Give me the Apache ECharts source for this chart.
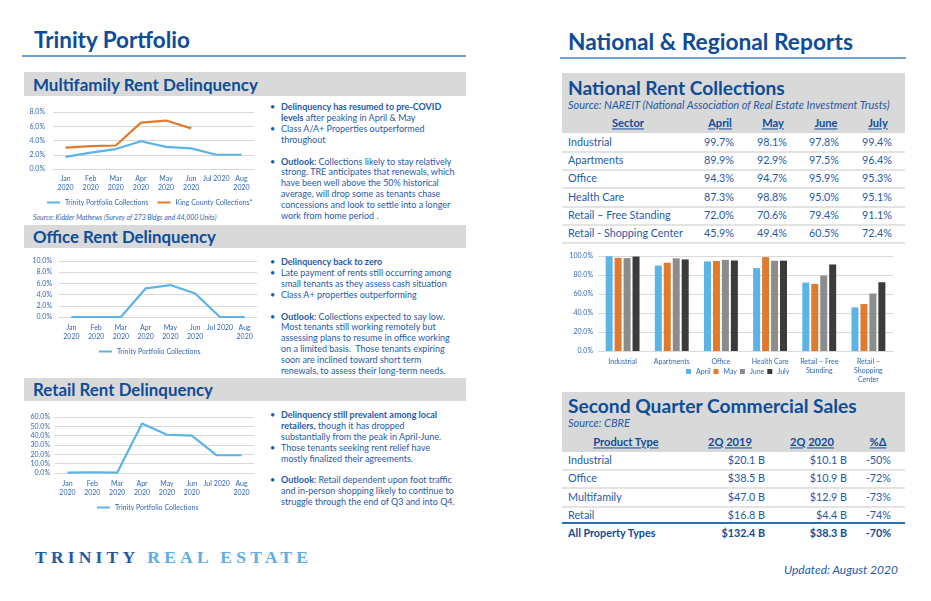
<!DOCTYPE html>
<html><head><meta charset="utf-8">
<script src="https://cdn.jsdelivr.net/npm/echarts@6/dist/echarts.min.js"></script>
<style>
html,body{margin:0;padding:0;background:#fff;width:931px;height:601px;overflow:hidden;font-family:Lato,'Noto Sans',sans-serif;}
#page{position:relative;width:931px;height:601px;}
.abs{position:absolute;white-space:nowrap;line-height:1;}
.box{position:absolute;}
#chart{position:absolute;left:0;top:0;width:931px;height:601px;z-index:2;}
</style></head><body><div id="page"><div id="chart"></div></div>
<script>
// ---------- DATA ----------
const monthLabels = ['Jan\n2020','Feb\n2020','Mar\n2020','Apr\n2020','May\n2020','Jun\n2020','Jul 2020','Aug\n2020'];
const trinityMultifamily = [1.7, 2.3, 2.8, 3.9, 3.1, 2.9, 2.0, 2.0];
const kingCountyMultifamily = [3.0, 3.2, 3.3, 6.5, 6.8, 5.7, null, null];
const trinityOffice = [0, 0, 0, 5.1, 5.7, 4.2, 0, 0];
const trinityRetail = [0.5, 0.8, 0.3, 53, 41, 40, 19, 19];

const sectors = ['Industrial','Apartments','Office','Health Care','Retail – Free Standing','Retail - Shopping Center'];
const sectorAxisLabels = ['Industrial','Apartments','Office','Health Care','Retail – Free\nStanding','Retail –\nShopping\nCenter'];
const monthsNational = ['April','May','June','July'];
const collApril = [99.7, 89.9, 94.3, 87.3, 72.0, 45.9];
const collMay   = [98.1, 92.9, 94.7, 98.8, 70.6, 49.4];
const collJune  = [97.8, 97.5, 95.9, 95.0, 79.4, 60.5];
const collJuly  = [99.4, 96.4, 95.3, 95.1, 91.1, 72.4];

const productTypes = ['Industrial','Office','Multifamily','Retail'];
const sales2019 = [20.1, 38.5, 47.0, 16.8];
const sales2020 = [10.1, 10.9, 12.9, 4.4];
const salesPct  = [-50, -72, -73, -74];
const totalLabel = 'All Property Types';
const total2019 = 132.4, total2020 = 38.3, totalPct = -70;

// ---------- STYLE ----------
const FONT = 'Lato';
const TITLE = '#0F4C97', BODY = '#1F5AA6', LBL = '#3467B0', GRAY = '#D9D9D9';
const LBLUE = '#5BB4E5', ORANGE = '#E07B2E', MGRAY = '#8C8C8C', DARK = '#3B3B3B';
const page = document.getElementById('page');

function measure(html, size, o) {
  const s = document.createElement('span');
  s.className = 'abs'; s.style.visibility = 'hidden';
  s.style.fontSize = size + 'px'; s.style.fontWeight = o.bold ? '700' : '400';
  s.style.fontStyle = o.italic ? 'italic' : 'normal';
  if (o.family) s.style.fontFamily = o.family;
  s.innerHTML = html; page.appendChild(s);
  const w = s.getBoundingClientRect().width; page.removeChild(s); return w;
}
function fitSize(html, targetW, o) {
  const base = 20;
  const n = (o.plain || html.replace(/<[^>]*>/g, '')).length;
  const lsTotal = o.ls ? o.ls * (n - 1) : 0;
  return base * (targetW - lsTotal) / measure(html, base, o);
}
function txt(html, x, y, o = {}) {
  const d = document.createElement('div'); d.className = 'abs'; d.innerHTML = html;
  d.style.left = x + 'px'; d.style.top = y + 'px';
  const tx = o.align === 'center' ? '-50%' : o.align === 'right' ? '-100%' : '0';
  d.style.transform = `translate(${tx},-50%)`;
  let size = o.size || 10;
  if (o.fitW) size = fitSize(html, o.fitW, o);
  d.style.fontSize = size + 'px'; d.style.fontWeight = o.bold ? '700' : '400';
  d.style.fontStyle = o.italic ? 'italic' : 'normal'; d.style.color = o.color || BODY;
  if (o.underline) d.style.textDecoration = 'underline';
  if (o.ls) d.style.letterSpacing = o.ls + 'px';
  if (o.family) d.style.fontFamily = o.family;
  page.appendChild(d); return size;
}
function rect(x, y, w, h, c) {
  const d = document.createElement('div'); d.className = 'box';
  Object.assign(d.style, {left: x + 'px', top: y + 'px', width: w + 'px', height: h + 'px', background: c});
  page.appendChild(d);
}
function bullets(lines, x, y0, step, size) {
  lines.forEach((ln, i) => {
    if (!ln) return;
    const y = y0 + i * step;
    if (ln.b) txt('•', x - 11, y, {size: size});
    txt(ln.h, x, y, {size: size});
  });
}

// ---------- LEFT COLUMN ----------
txt('Trinity Portfolio', 34, 40, {bold: true, fitW: 156, color: TITLE});
rect(22, 55, 444, 2, '#6F9FD0');

rect(24, 72, 442, 24, GRAY);
txt('Multifamily Rent Delinquency', 33, 84, {bold: true, fitW: 225, color: TITLE});
rect(24, 225, 442, 23, GRAY);
txt('Office Rent Delinquency', 33, 237, {bold: true, fitW: 183, color: TITLE});
rect(24, 378, 442, 23, GRAY);
txt('Retail Rent Delinquency', 33, 390, {bold: true, fitW: 180, color: TITLE});

txt('Source: Kidder Mathews (Survey of 273 Bldgs and 44,000 Units)', 33, 217, {italic: true, fitW: 184, color: LBL});

const bSize = (fitSize('Late payment of rents still occurring among', 174, {}) +
               fitSize('strong. TRE anticipates that renewals, which', 165, {}) +
               fitSize('and in-person shopping likely to continue to', 178, {})) / 3;
bullets([
  {b: 1, h: '<b>Delinquency has resumed to pre-COVID</b>'},
  {b: 0, h: '<b>levels</b> after peaking in April &amp; May'},
  {b: 1, h: 'Class A/A+ Properties outperformed'},
  {b: 0, h: 'throughout'},
  null,
  {b: 1, h: '<b>Outlook</b>: Collections likely to stay relatively'},
  {b: 0, h: 'strong. TRE anticipates that renewals, which'},
  {b: 0, h: 'have been well above the 50% historical'},
  {b: 0, h: 'average, will drop some as tenants chase'},
  {b: 0, h: 'concessions and look to settle into a longer'},
  {b: 0, h: 'work from home period .'}
], 281, 106, 10.9, bSize);
bullets([
  {b: 1, h: '<b>Delinquency back to zero</b>'},
  {b: 1, h: 'Late payment of rents still occurring among'},
  {b: 0, h: 'small tenants as they assess cash situation'},
  {b: 1, h: 'Class A+ properties outperforming'},
  null,
  {b: 1, h: '<b>Outlook</b>: Collections expected to say low.'},
  {b: 0, h: 'Most tenants still working remotely but'},
  {b: 0, h: 'assessing plans to resume in office working'},
  {b: 0, h: 'on a limited basis.&nbsp; Those tenants expiring'},
  {b: 0, h: 'soon are inclined toward short term'},
  {b: 0, h: 'renewals, to assess their long-term needs.'}
], 281, 261, 10.9, bSize);
bullets([
  {b: 1, h: '<b>Delinquency still prevalent among local</b>'},
  {b: 0, h: '<b>retailers,</b> though it has dropped'},
  {b: 0, h: 'substantially from the peak in April-June.'},
  {b: 1, h: 'Those tenants seeking rent relief have'},
  {b: 0, h: 'mostly finalized their agreements.'},
  null,
  {b: 1, h: '<b>Outlook</b>: Retail dependent upon foot traffic'},
  {b: 0, h: 'and in-person shopping likely to continue to'},
  {b: 0, h: 'struggle through the end of Q3 and into Q4.'}
], 281, 414, 10.9, bSize);

txt('<span style="color:#1F5AA6">TRINITY</span> <span style="color:#5DADE2">REAL ESTATE</span>', 35, 558,
  {bold: true, family: "'Liberation Serif', serif", ls: 4.2, fitW: 273});

// ---------- RIGHT COLUMN ----------
txt('National &amp; Regional Reports', 568, 42, {bold: true, fitW: 285, color: TITLE});
rect(560, 57, 346, 2, '#6F9FD0');

// National table
rect(562, 73, 343, 60, GRAY);
txt('National Rent Collections', 568, 88, {bold: true, fitW: 217, color: TITLE});
const srcSize = txt('Source: NAREIT (National Association of Real Estate Investment Trusts)', 568, 105, {italic: true, fitW: 322});
const hdrSize = fitSize('Sector', 32, {bold: true});
const natHdrX = [628, 720, 773, 826, 878];
['Sector', ...monthsNational].forEach((h, i) => txt(h, natHdrX[i], 123, {bold: true, underline: true, size: hdrSize, align: 'center', color: TITLE}));
const rowSize = fitSize('Retail - Shopping Center', 115, {});
const natValX = [734, 787, 839, 892];
const natCols = [collApril, collMay, collJune, collJuly];
sectors.forEach((s, r) => {
  const y = 141.7 + r * 18.33;
  txt(s, 568, y, {size: rowSize});
  natCols.forEach((col, c) => txt(col[r].toFixed(1) + '%', natValX[c], y, {size: rowSize, align: 'right'}));
  rect(562, Math.round(y + 9), 343, 2, '#E3E3E3');
});

// Sales table
rect(562, 392, 343, 60, GRAY);
txt('Second Quarter Commercial Sales', 568, 406, {bold: true, fitW: 289, color: TITLE});
txt('Source: CBRE', 568, 423, {italic: true, size: srcSize});
const salesHdr = ['Product Type', '2Q 2019', '2Q 2020', '%Δ'];
const salesHdrX = [626, 730, 812, 878];
salesHdr.forEach((h, i) => txt(h, salesHdrX[i], 442, {bold: true, underline: true, size: hdrSize, align: 'center', color: TITLE}));
const salesValX = [765, 847, 891];
const money = v => '$' + v.toFixed(1) + ' B';
productTypes.forEach((p, r) => {
  const y = 460 + r * 18.33;
  txt(p, 568, y, {size: rowSize});
  txt(money(sales2019[r]), salesValX[0], y, {size: rowSize, align: 'right'});
  txt(money(sales2020[r]), salesValX[1], y, {size: rowSize, align: 'right'});
  txt(salesPct[r] + '%', salesValX[2], y, {size: rowSize, align: 'right'});
  if (r < productTypes.length - 1) rect(562, Math.round(y + 9), 343, 2, '#E3E3E3');
});
rect(562, 522, 343, 2, '#2F6EB5');
const yT = 533.3;
txt(totalLabel, 568, yT, {size: rowSize, bold: true, color: TITLE});
txt(money(total2019), salesValX[0], yT, {size: rowSize, bold: true, align: 'right', color: TITLE});
txt(money(total2020), salesValX[1], yT, {size: rowSize, bold: true, align: 'right', color: TITLE});
txt(totalPct + '%', salesValX[2], yT, {size: rowSize, bold: true, align: 'right', color: TITLE});

txt('Updated: August 2020', 784, 570, {italic: true, fitW: 114});

// ---------- CHARTS ----------
const pct = v => v.toFixed(1) + '%';
function yAx(gi, max, interval, margin) {
  return {type: 'value', gridIndex: gi, min: 0, max, interval,
    axisLabel: {formatter: pct, fontSize: 7, color: LBL, margin, fontFamily: FONT},
    splitLine: {lineStyle: {color: GRAY, width: 1}}, axisLine: {show: false}, axisTick: {show: false}};
}
function xAx(gi, data, margin) {
  return {type: 'category', gridIndex: gi, data, boundaryGap: true, axisTick: {show: false},
    axisLine: {lineStyle: {color: GRAY, width: 1}},
    axisLabel: {interval: 0, fontSize: 7, lineHeight: 9, color: LBL, margin, fontFamily: FONT}};
}
function lineS(name, gi, data, color) {
  return {type: 'line', name, xAxisIndex: gi, yAxisIndex: gi, data, symbol: 'none',
    lineStyle: {width: 2.2, color}, itemStyle: {color}, connectNulls: false};
}
function barS(name, data, color) {
  return {type: 'bar', name, xAxisIndex: 3, yAxisIndex: 3, data, barWidth: 7, barGap: '28%', itemStyle: {color}};
}
const legBase = {icon: 'rect', itemWidth: 13, itemHeight: 2, itemGap: 9, padding: 0,
  textStyle: {fontSize: 7, color: LBL, fontFamily: FONT}};
const chart = echarts.init(document.getElementById('chart'), null, {renderer: 'canvas'});
chart.setOption({
  animation: false,
  backgroundColor: 'transparent',
  textStyle: {fontFamily: FONT},
  grid: [
    {left: 53, right: 931 - 254, top: 112, bottom: 601 - 169},
    {left: 59, right: 931 - 257, top: 261, bottom: 601 - 317},
    {left: 55, right: 931 - 254, top: 417, bottom: 601 - 473},
    {left: 598, right: 931 - 893, top: 256, bottom: 601 - 351}
  ],
  xAxis: [xAx(0, monthLabels, 5), xAx(1, monthLabels, 6), xAx(2, monthLabels, 6), xAx(3, sectorAxisLabels, 6)],
  yAxis: [yAx(0, 8, 2, 8), yAx(1, 10, 2, 7), yAx(2, 60, 10, 5), yAx(3, 100, 20, 5)],
  legend: [
    Object.assign({}, legBase, {data: ['Trinity Portfolio Collections', 'King County Collections*'], left: 47, top: 199}),
    Object.assign({}, legBase, {data: ['Trinity Portfolio Collections'], left: 99, top: 348}),
    Object.assign({}, legBase, {data: ['Trinity Portfolio Collections'], left: 97, top: 504}),
    Object.assign({}, legBase, {data: monthsNational, left: 686, top: 368, itemWidth: 5, itemHeight: 5, itemGap: 3})
  ],
  series: [
    lineS('Trinity Portfolio Collections', 0, trinityMultifamily, LBLUE),
    lineS('King County Collections*', 0, kingCountyMultifamily, ORANGE),
    lineS('Trinity Portfolio Collections', 1, trinityOffice, LBLUE),
    lineS('Trinity Portfolio Collections', 2, trinityRetail, LBLUE),
    barS('April', collApril, LBLUE),
    barS('May', collMay, ORANGE),
    barS('June', collJune, MGRAY),
    barS('July', collJuly, DARK)
  ]
});
</script></body></html>
